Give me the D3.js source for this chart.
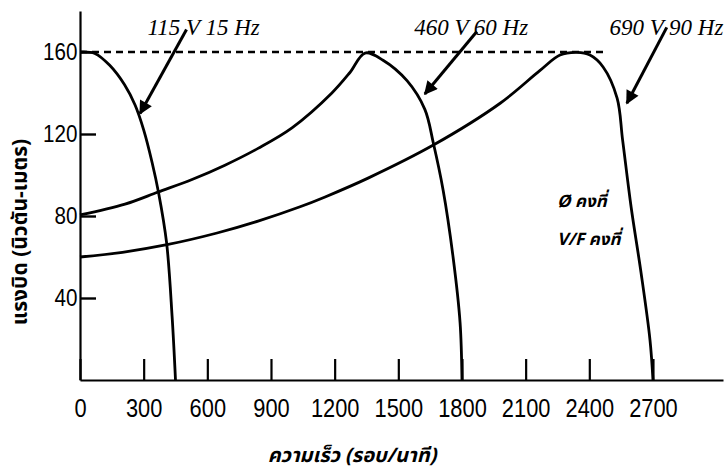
<!DOCTYPE html>
<html>
<head>
<meta charset="utf-8">
<script src="https://cdn.jsdelivr.net/npm/d3@7"></script>
<style>
  body { margin: 0; background: #fff; }
  svg { display: block; }
  .num { font-family: "Liberation Sans", Arial, sans-serif; fill: #000; }
  .lbl { font-family: "Liberation Serif", "Times New Roman", serif; font-style: italic; fill: #000; }
  .thai { font-family: "Noto Sans Thai", "Loma", "Garuda", "Tlwg Typo", "Noto Sans", sans-serif; fill: #000; }
</style>
</head>
<body>
<svg id="chart" width="727" height="470"></svg>
<script>
// ---- data (rpm, torque N·m) ----
const xTicks = [0, 300, 600, 900, 1200, 1500, 1800, 2100, 2400, 2700];
const yTicks = [40, 80, 120, 160];
const curve15Hz = [[0,160],[70,159.3],[140,153.5],[210,144],[260,134],[300,122],[340,106],[370,91.5],[408,67],[434,31],[450,0]];
const curve60Hz = [[0,80.5],[212,85.8],[368,91.7],[528,97.8],[683,104.8],[839,113],[999,123],[1187,140],[1272,150],[1343,159.5],[1428,156],[1541,146],[1625,132],[1665,115.6],[1711,92.7],[1758,60],[1791,28],[1800,0]];
const curve90Hz = [[0,60],[200,62.3],[410,66],[646,71.7],[839,77.5],[1037,84.5],[1155,89.3],[1360,98.6],[1665,114.6],[1980,135],[2168,151],[2262,158.5],[2342,159.8],[2403,158.5],[2465,152.7],[2531,137.5],[2557,117],[2597,84.4],[2644,52.2],[2686,19.5],[2700,0]];
const curveLabels = ["115 V 15 Hz", "460 V 60 Hz", "690 V 90 Hz"];
const maxTorque = 160;
const maxTorqueLineEnd = 2467;
const xLabel = "ความเร็ว (รอบ/นาที)";
const yLabel = "แรงบิด (นิวตัน-เมตร)";
const noteLines = ["Ø คงที่", "V/F คงที่"];

// ---- layout ----
const svg = d3.select("#chart");
const x = d3.scaleLinear().domain([0, 3030]).range([80, 723]);
const y = d3.scaleLinear().domain([0, 180]).range([380, 11]);

// defs: arrowhead
svg.append("defs").append("marker")
  .attr("id", "ah").attr("viewBox", "0 0 10 10")
  .attr("refX", 9).attr("refY", 5)
  .attr("markerWidth", 5).attr("markerHeight", 4.5)
  .attr("markerUnits", "strokeWidth")
  .attr("orient", "auto")
  .append("path").attr("d", "M0,0 L10,5 L0,10 Z").attr("fill", "#000");

// axes
const gx = svg.append("g").attr("transform", `translate(0,${y(0)})`)
  .call(d3.axisBottom(x).tickValues(xTicks).tickFormat(d3.format("d"))
    .tickSizeInner(-21).tickSizeOuter(0).tickPadding(19));
gx.select(".domain").attr("stroke", "#000").attr("stroke-width", 2.2);
gx.selectAll(".tick line").attr("stroke", "#000").attr("stroke-width", 2.2);
gx.selectAll(".tick text").attr("class", "num").attr("font-size", 26)
  .attr("transform", "scale(0.84,1)");

const gy = svg.append("g").attr("transform", `translate(${x(0)},0)`)
  .call(d3.axisLeft(y).tickValues(yTicks).tickFormat(d3.format("d"))
    .tickSizeInner(-16).tickSizeOuter(0).tickPadding(3));
gy.select(".domain").attr("stroke", "#000").attr("stroke-width", 2.2);
gy.selectAll(".tick line").attr("stroke", "#000").attr("stroke-width", 2.4);
gy.selectAll(".tick text").attr("class", "num").attr("font-size", 24)
  .attr("transform", "scale(0.86,1)");
svg.selectAll("g").attr("font-family", null).attr("font-size", null);

// dashed max-torque line
svg.append("line")
  .attr("x1", x(0)).attr("x2", x(maxTorqueLineEnd))
  .attr("y1", y(maxTorque)).attr("y2", y(maxTorque))
  .attr("stroke", "#000").attr("stroke-width", 2.4)
  .attr("stroke-dasharray", "7,5");

// curves
const line = d3.line().x(d => x(d[0])).y(d => y(d[1])).curve(d3.curveCatmullRom.alpha(0.5));
[curve15Hz, curve60Hz, curve90Hz].forEach(c => {
  svg.append("path").datum(c).attr("d", line)
    .attr("fill", "none").attr("stroke", "#000").attr("stroke-width", 2.8)
    .attr("stroke-linejoin", "round");
});

// labels with arrows (arrow start/end given in data units)
const labelPos = [[318, 170], [1575, 170], [2495, 170]];
const arrows = [[[502, 171], [283, 130]], [[1870, 170], [1625, 139.5]], [[2765, 172], [2577, 135]]];
curveLabels.forEach((t, i) => {
  svg.append("text").attr("class", "lbl")
    .attr("x", x(labelPos[i][0])).attr("y", 35)
    .attr("font-size", 23).text(t);
  svg.append("line")
    .attr("x1", x(arrows[i][0][0])).attr("y1", y(arrows[i][0][1]))
    .attr("x2", x(arrows[i][1][0])).attr("y2", y(arrows[i][1][1]))
    .attr("stroke", "#000").attr("stroke-width", 3)
    .attr("marker-end", "url(#ah)");
});

// note text
noteLines.forEach((t, i) => {
  svg.append("text").attr("class", "thai")
    .attr("x", 557).attr("y", 207 + i * 38)
    .attr("font-size", 17).attr("font-weight", "bold").attr("font-style", "italic")
    .text(t);
});

// axis titles
svg.append("text").attr("class", "thai")
  .attr("x", 352).attr("y", 462).attr("text-anchor", "middle")
  .attr("font-size", 20).attr("font-weight", "bold").attr("font-style", "italic")
  .text(xLabel);
svg.append("text").attr("class", "thai")
  .attr("transform", "translate(27,232) rotate(-90)").attr("text-anchor", "middle")
  .attr("font-size", 21).attr("font-weight", "bold")
  .text(yLabel);
</script>
</body>
</html>
